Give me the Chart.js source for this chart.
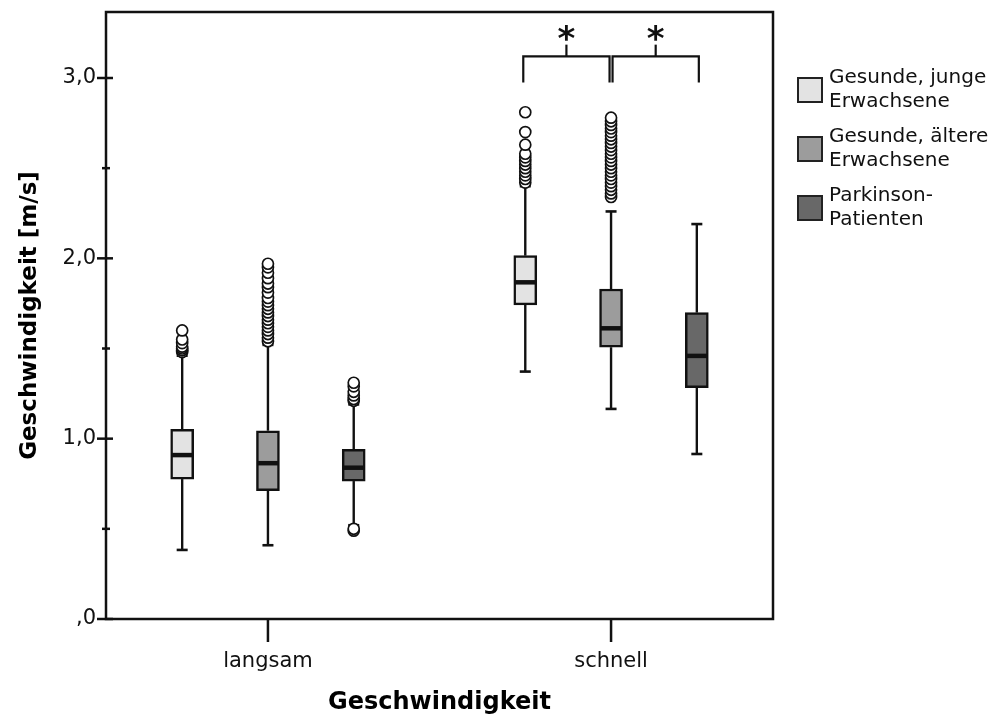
<!DOCTYPE html>
<html>
<head>
<meta charset="utf-8">
<script src="https://cdn.jsdelivr.net/npm/chart.js@4/dist/chart.umd.min.js"></script>
<style>
  html, body { margin: 0; padding: 0; background: #fff; }
</style>
</head>
<body>
<canvas id="chart" width="1003" height="718"></canvas>
<script>
// Box plot data. Each group array: [langsam, schnell]
const categories = ["langsam", "schnell"];
const groupNames = ["Gesunde, junge Erwachsene", "Gesunde, ältere Erwachsene", "Parkinson-Patienten"];
const legendLines = [["Gesunde, junge", "Erwachsene"], ["Gesunde, ältere", "Erwachsene"], ["Parkinson-", "Patienten"]];

const whiskerLow  = [[0.383, 1.372], [0.409, 1.165], [0.52, 0.915]];
const q1          = [[0.776, 1.742], [0.712, 1.507], [0.765, 1.283]];
const median      = [[0.909, 1.867], [0.864, 1.612], [0.839, 1.459]];
const q3          = [[1.052, 2.015], [1.044, 1.830], [0.941, 1.699]];
const whiskerHigh = [[1.46, 2.40],   [1.52, 2.26],   [1.19, 2.19]];

const outliers = [
  [[1.48, 1.49, 1.50, 1.51, 1.53, 1.55, 1.60],
   [2.42, 2.44, 2.46, 2.48, 2.50, 2.52, 2.54, 2.56, 2.58, 2.63, 2.70, 2.81]],
  [[1.54, 1.56, 1.58, 1.60, 1.62, 1.64, 1.66, 1.68, 1.70, 1.72, 1.74, 1.76, 1.78, 1.81, 1.84, 1.86, 1.89, 1.92, 1.95, 1.97],
   [2.34, 2.36, 2.38, 2.40, 2.42, 2.44, 2.46, 2.48, 2.50, 2.52, 2.54, 2.56, 2.58, 2.60, 2.62, 2.64, 2.66, 2.68, 2.70, 2.72, 2.74, 2.76, 2.78]],
  [[0.49, 0.50, 1.21, 1.22, 1.24, 1.26, 1.29, 1.31],
   []]
];

const yTickValues = [0, 1, 2, 3];
const yTickLabels = [",0", "1,0", "2,0", "3,0"];
const xTitle = "Geschwindigkeit";
const yTitle = "Geschwindigkeit [m/s]";

// significance brackets inside "schnell": pairs of group indices
const bracketCategory = 1;
const bracketPairs = [[0, 1], [1, 2]];
const bracketLegY = 2.975, bracketBarY = 3.12, bracketTopY = 3.185;
const bracketMark = "*";

// styles
const FILLS = ["#e3e3e3", "#9c9c9c", "#686868"];
const INK = "#111";
const GROUP_STEP = 0.25;     // x offset between boxes of a category
const FONT = "'DejaVu Sans', sans-serif";

const xOf = (ci, gi) => ci + (gi - 1) * GROUP_STEP;

const boxDatasets = groupNames.map((name, gi) => ({
  type: "bar",
  label: name,
  data: categories.map((c, ci) => ({ x: xOf(ci, gi), y: [q1[gi][ci], q3[gi][ci]] })),
  backgroundColor: FILLS[gi],
  borderColor: INK,
  borderWidth: 2.5,
  borderSkipped: false,
  grouped: false,
  barPercentage: 1,
  categoryPercentage: 1,
  maxBarThickness: 23,
  order: 1
}));

const outlierDatasets = groupNames.map((name, gi) => ({
  type: "scatter",
  label: name + " (Ausreißer)",
  data: categories.flatMap((c, ci) => outliers[gi][ci].map(v => ({ x: xOf(ci, gi), y: v }))),
  pointRadius: 5.5,
  pointBorderWidth: 1.7,
  pointBackgroundColor: "#fff",
  pointBorderColor: INK,
  showLine: false,
  order: 0
}));

function seg(ctx, x1, y1, x2, y2) {
  ctx.beginPath();
  ctx.moveTo(x1, y1);
  ctx.lineTo(x2, y2);
  ctx.stroke();
}

const boxMarks = {
  id: "boxMarks",
  // whiskers go under the outlier circles
  beforeDatasetsDraw(chart) {
    const { ctx, scales: { x, y } } = chart;
    ctx.save();
    ctx.strokeStyle = INK;
    ctx.lineWidth = 2.4;
    groupNames.forEach((n, gi) => categories.forEach((c, ci) => {
      const px = x.getPixelForValue(xOf(ci, gi));
      const lo = y.getPixelForValue(whiskerLow[gi][ci]);
      const hi = y.getPixelForValue(whiskerHigh[gi][ci]);
      seg(ctx, px, y.getPixelForValue(q3[gi][ci]), px, hi);
      seg(ctx, px, y.getPixelForValue(q1[gi][ci]), px, lo);
      ctx.lineWidth = 2.6;
      seg(ctx, px - 5.5, hi, px + 5.5, hi);
      seg(ctx, px - 5.5, lo, px + 5.5, lo);
      ctx.lineWidth = 2.4;
    }));
    ctx.restore();
  },
  afterDatasetsDraw(chart) {
    const { ctx, scales: { x, y } } = chart;
    ctx.save();
    ctx.strokeStyle = INK;
    ctx.lineWidth = 4.5;
    groupNames.forEach((n, gi) => categories.forEach((c, ci) => {
      const px = x.getPixelForValue(xOf(ci, gi));
      const py = y.getPixelForValue(median[gi][ci]);
      seg(ctx, px - 10.5, py, px + 10.5, py);
    }));
    ctx.restore();
  },
  afterDraw(chart) {
    const { ctx, chartArea: a, scales: { x, y } } = chart;
    ctx.save();
    ctx.strokeStyle = INK;
    ctx.lineWidth = 2.5;
    // frame
    ctx.strokeRect(a.left, a.top, a.right - a.left, a.bottom - a.top);
    // y ticks: major every 1, minor every 0.5
    for (let v = 0; v <= y.max; v += 0.5) {
      const py = y.getPixelForValue(v);
      const major = Number.isInteger(v);
      seg(ctx, a.left - (major ? 9 : 4), py, a.left + (major ? 7 : 4), py);
    }
    // x ticks
    categories.forEach((c, ci) => {
      const px = x.getPixelForValue(ci);
      seg(ctx, px, a.bottom, px, a.bottom + 23);
    });

    // significance brackets
    const yLeg = y.getPixelForValue(bracketLegY);
    const yBar = y.getPixelForValue(bracketBarY);
    const yTop = y.getPixelForValue(bracketTopY);
    ctx.lineWidth = 2.2;
    bracketPairs.forEach((pair, bi) => {
      let x1 = x.getPixelForValue(xOf(bracketCategory, pair[0])) - 2;
      let x2 = x.getPixelForValue(xOf(bracketCategory, pair[1])) + 2;
      if (bracketPairs.some((p, j) => j !== bi && p[0] === pair[1])) x2 -= 3.5;
      if (bracketPairs.some((p, j) => j !== bi && p[1] === pair[0])) x1 += 3.5;
      ctx.beginPath();
      ctx.moveTo(x1, yLeg);
      ctx.lineTo(x1, yBar);
      ctx.lineTo(x2, yBar);
      ctx.lineTo(x2, yLeg);
      ctx.stroke();
      const xm = (x1 + x2) / 2;
      seg(ctx, xm, yBar, xm, yTop);
      ctx.fillStyle = INK;
      ctx.font = "bold 34px " + FONT;
      ctx.textAlign = "center";
      ctx.textBaseline = "alphabetic";
      ctx.fillText(bracketMark, xm, yTop + 5);
    });

    // legend
    const lx = a.right + 25;
    const centers = [90, 149, 208];
    ctx.lineWidth = 2;
    ctx.font = "20px " + FONT;
    ctx.textAlign = "left";
    ctx.textBaseline = "middle";
    legendLines.forEach((lines, gi) => {
      const cy = centers[gi];
      ctx.fillStyle = FILLS[gi];
      ctx.fillRect(lx, cy - 12, 24, 24);
      ctx.strokeStyle = "#222";
      ctx.strokeRect(lx, cy - 12, 24, 24);
      ctx.fillStyle = "#111";
      ctx.fillText(lines[0], lx + 31, cy - 12);
      ctx.fillText(lines[1], lx + 31, cy + 12);
    });
    ctx.restore();
  }
};

new Chart(document.getElementById("chart"), {
  type: "bar",
  data: { datasets: [...boxDatasets, ...outlierDatasets] },
  options: {
    responsive: false,
    animation: false,
    layout: { padding: { left: 0, right: 230, top: 12, bottom: 0 } },
    plugins: { legend: { display: false }, tooltip: { enabled: false } },
    scales: {
      x: {
        type: "linear",
        min: -0.472,
        max: 1.472,
        offset: false,
        grid: { display: false, drawTicks: false },
        border: { display: false },
        afterBuildTicks: s => { s.ticks = categories.map((c, i) => ({ value: i })); },
        ticks: {
          callback: v => categories[v],
          autoSkip: false, maxRotation: 0, padding: 30,
          color: "#111", font: { family: FONT, size: 21 }
        },
        title: {
          display: true, text: xTitle, color: "#000",
          font: { family: FONT, size: 24, weight: "bold" },
          padding: { top: 0, bottom: 1 }
        },
        afterFit: s => { s.height = 99; s.paddingLeft = 0; s.paddingRight = 0; }
      },
      y: {
        min: 0,
        max: 3.366,
        grid: { display: false, drawTicks: false },
        border: { display: false },
        afterBuildTicks: s => { s.ticks = yTickValues.map(v => ({ value: v })); },
        ticks: {
          callback: v => yTickLabels[yTickValues.indexOf(v)],
          padding: 10,
          color: "#111", font: { family: FONT, size: 21 }
        },
        title: {
          display: true, text: yTitle, color: "#000",
          font: { family: FONT, size: 23, weight: "bold" },
          padding: { top: 16, bottom: 0 }
        },
        afterFit: s => { s.width = 106; s.paddingTop = 0; s.paddingBottom = 0; }
      }
    }
  },
  plugins: [boxMarks]
});
</script>
</body>
</html>
